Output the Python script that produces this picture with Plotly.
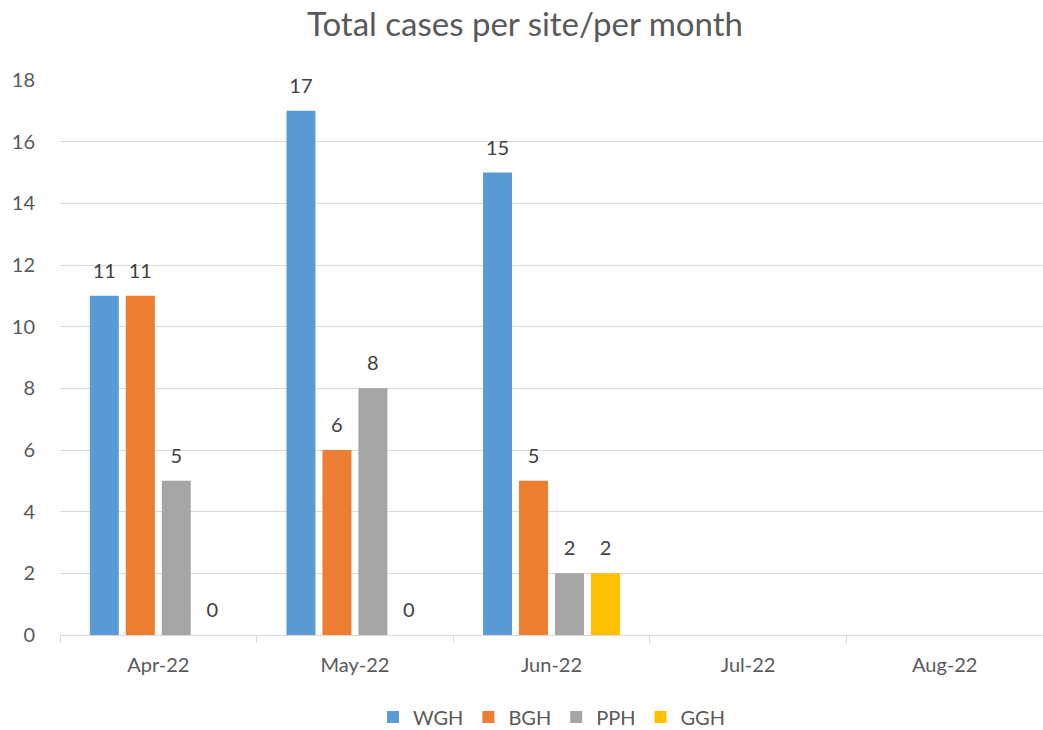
import plotly.graph_objects as go

months = ["Apr-22", "May-22", "Jun-22", "Jul-22", "Aug-22"]
wgh = [11, 17, 15, None, None]
bgh = [11, 6, 5, None, None]
pph = [5, 8, 2, None, None]
ggh = [0, 0, 2, None, None]

series = [
    ("WGH", wgh, "#5B9BD5"),
    ("BGH", bgh, "#ED7D31"),
    ("PPH", pph, "#A5A5A5"),
    ("GGH", ggh, "#FFC000"),
]

FONT = "Lato"
fig = go.Figure()
for name, vals, color in series:
    labels = [("" if v is None else
               "<span style='font-size:20px'>%d</span><br> " % v) for v in vals]
    fig.add_trace(go.Bar(
        x=months, y=vals, name=name, marker_color=color, marker_line_width=0,
        text=labels, textposition="outside", cliponaxis=False,
        textfont=dict(size=10, color="#404040", family=FONT),
    ))

fig.update_layout(
    width=1043, height=730,
    paper_bgcolor="white", plot_bgcolor="white",
    margin=dict(l=60, r=0, t=80, b=95),
    title=dict(text="Total cases per site/per month", x=525 / 1043, xanchor="center",
               y=1 - 24 / 730, yanchor="middle",
               font=dict(size=33, color="#595959", family=FONT)),
    barmode="group", bargap=0.268, bargroupgap=0.194,
    font=dict(family=FONT, color="#595959", size=20),
    legend=dict(orientation="h", x=0.5, xanchor="center",
                yref="container", y=13 / 730, yanchor="middle",
                font=dict(size=20, color="#595959"), itemwidth=30,
                traceorder="normal"),
    showlegend=True,
)
fig.update_xaxes(
    type="category", showgrid=False, showline=True, linecolor="#D9D9D9", linewidth=1,
    ticks="outside", tickson="boundaries", ticklen=7, tickcolor="#D9D9D9",
    tickfont=dict(size=20, color="#595959"), ticklabelstandoff=12, automargin=False,
)
fig.update_yaxes(
    range=[0, 18], dtick=2, showgrid=True, gridcolor="#D9D9D9", gridwidth=1,
    zeroline=False, showline=False, ticks="",
    tickfont=dict(size=20, color="#595959"), ticklabelstandoff=24, automargin=False,
)
fig.write_html(
    "out.html",
    config={"displayModeBar": False},
    post_script="document.body.style.margin='0';document.body.style.overflow='hidden';",
)
